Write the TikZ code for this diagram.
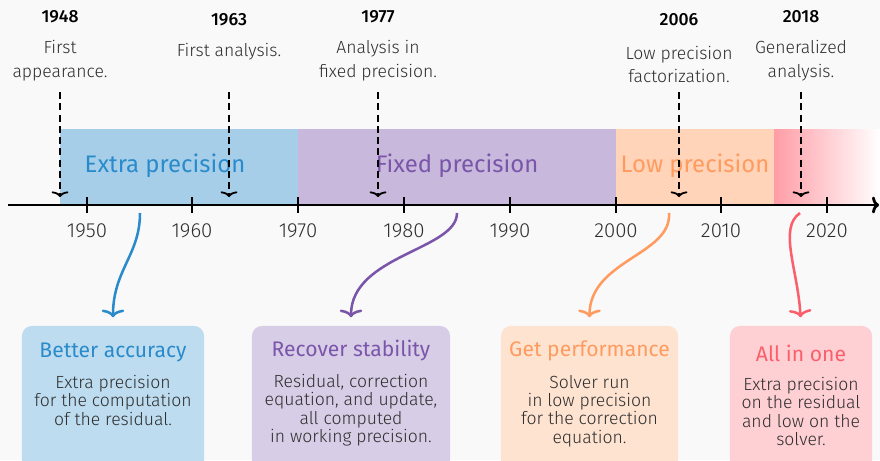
\documentclass[tikz,border=0pt]{standalone}
\usepackage{fontspec}
\IfFontExistsTF{Fira Sans Light}
  {\setmainfont{Fira Sans Light}[BoldFont={Fira Sans Medium}]
   \newfontfamily\titlefont{Fira Sans}}
  {\setmainfont{Fira Sans}
   \newfontfamily\titlefont{Fira Sans}}
\usetikzlibrary{arrows.meta}

\definecolor{bg}{HTML}{F9F9F9}
\definecolor{ink}{HTML}{2E2E2E}
\definecolor{extraband}{HTML}{A6CEE8}
\definecolor{extratext}{HTML}{2A8BCB}
\definecolor{extrabox}{HTML}{BEDCEF}
\definecolor{fixedband}{HTML}{C8B9DC}
\definecolor{fixedtext}{HTML}{7A55A9}
\definecolor{fixedbox}{HTML}{D8CDE6}
\definecolor{lowband}{HTML}{FFD4B9}
\definecolor{lowtext}{HTML}{FF9B5E}
\definecolor{lowbox}{HTML}{FEE3D1}
\definecolor{allband}{HTML}{FF9DA6}
\definecolor{alltext}{HTML}{FB5F6C}
\definecolor{allbox}{HTML}{FECFD3}

\tikzset{
  year/.style={font=\bfseries\fontsize{12.5}{14}\selectfont, text=black},
  event/.style={align=center, inner sep=0pt, font=\fontsize{12.5}{17}\selectfont, text=ink},
  band/.style={font=\titlefont\fontsize{17}{20}\selectfont},
  axislabel/.style={font=\fontsize{14.5}{16}\selectfont, text=ink},
  axisline/.style={line width=2pt, -{To[length=5pt,width=12pt]}},
  tickmark/.style={line width=2pt},
  pointer/.style={line width=1.3pt, dash pattern=on 5pt off 3pt, -{To[length=4pt,width=12pt]}},
  box/.style={rounded corners=7pt, minimum height=3.6cm, inner sep=0pt},
  boxtitle/.style={font=\titlefont\fontsize{15}{18}\selectfont},
  body/.style={align=center, anchor=north, inner sep=0pt, font=\fontsize{12.5}{13}\selectfont, text=ink},
  link/.style={line width=1.8pt, -{To[length=5.5pt,width=16pt]}, shorten >=6pt}
}

\begin{document}
\begin{tikzpicture}[x=0.025cm, y=-0.025cm]
\useasboundingbox (0,0) rectangle (880,460);
\fill[bg] (0,0) rectangle (880,460);

% eras
\fill[extraband] (60,129) rectangle (298,205);
\fill[fixedband] (298,129) rectangle (616,205);
\fill[lowband] (616,129) rectangle (774,205);
\shade[left color=allband, right color=white] (774,129) rectangle (880,205);
\node[band, text=extratext] (extra) at (165,166) {Extra precision};
\node[band, text=fixedtext] (fixed) at (457,166) {Fixed precision};
\node[band, text=lowtext] (low) at (695,166) {Low precision};

% time axis
\coordinate (origin) at (8,205);
\coordinate (tip) at (879,205);
\draw[axisline] (origin) -- (tip);
\foreach \x/\yr in {87/1950, 192/1960, 298/1970, 404/1980, 510/1990, 616/2000, 721/2010, 827/2020} {
  \draw[tickmark] (\x,197) -- (\x,213);
  \node[axislabel] (lab\yr) at (\x,231) {\yr};
}

% milestones
\foreach \x/\yr/\yy/\ty/\txt in {60/1948/17/60.5/{First\\appearance.}, 229/1963/20/52/{First analysis.},
    378/1977/17/60.5/{Analysis in\\fixed precision.}, 679/2006/20/64.5/{Low precision\\factorization.},
    801/2018/17/60.5/{Generalized\\analysis.}} {
  \node[year] (yr\yr) at (\x,\yy) {\yr};
  \node[event] (ev\yr) at (\x,\ty) {\txt};
  \coordinate (d\yr) at (\x,92);
  \coordinate (a\yr) at (\x,197);
  \draw[pointer] (d\yr) -- (a\yr);
}

% contributions
\node[box, fill=extrabox, minimum width=4.55cm] (accuracy) at (113,398) {};
\node[box, fill=fixedbox, minimum width=4.95cm] (stability) at (351,398) {};
\node[box, fill=lowbox, minimum width=4.425cm] (performance) at (589.5,398) {};
\node[box, fill=allbox, minimum width=3.55cm] (allinone) at (801,398) {};

\node[boxtitle, text=extratext] (accuracyt) at (113,352) {Better accuracy};
\node[boxtitle, text=fixedtext] (stabilityt) at (351,351) {Recover stability};
\node[boxtitle, text=lowtext] (performancet) at (589.5,351) {Get performance};
\node[boxtitle, text=alltext] (allinonet) at (801,353) {All in one};

\node[body] (accuracyb) at (113,375) {Extra precision\\for the computation\\of the residual.};
\node[body] (stabilityb) at (351,374) {Residual, correction\\equation, and update,\\all computed\\in working precision.};
\node[body] (performanceb) at (589.5,375) {Solver run\\in low precision\\for the correction\\equation.};
\node[body] (allinoneb) at (801,377) {Extra precision\\on the residual\\and low on the\\solver.};

\coordinate (s1) at (140,213);
\coordinate (s2) at (457,213);
\coordinate (s3) at (669,213);
\coordinate (s4) at (800,213);
\draw[link, extratext] (s1) .. controls (140,255) and (113,270) .. (accuracy.north);
\draw[link, fixedtext] (s2) .. controls (457,250) and (351,255) .. (stability.north);
\draw[link, lowtext] (s3) .. controls (672,255) and (589.5,260) .. (performance.north);
\draw[link, alltext] (s4) .. controls (778,228) and (798,270) .. (allinone.north);
\end{tikzpicture}
\end{document}
